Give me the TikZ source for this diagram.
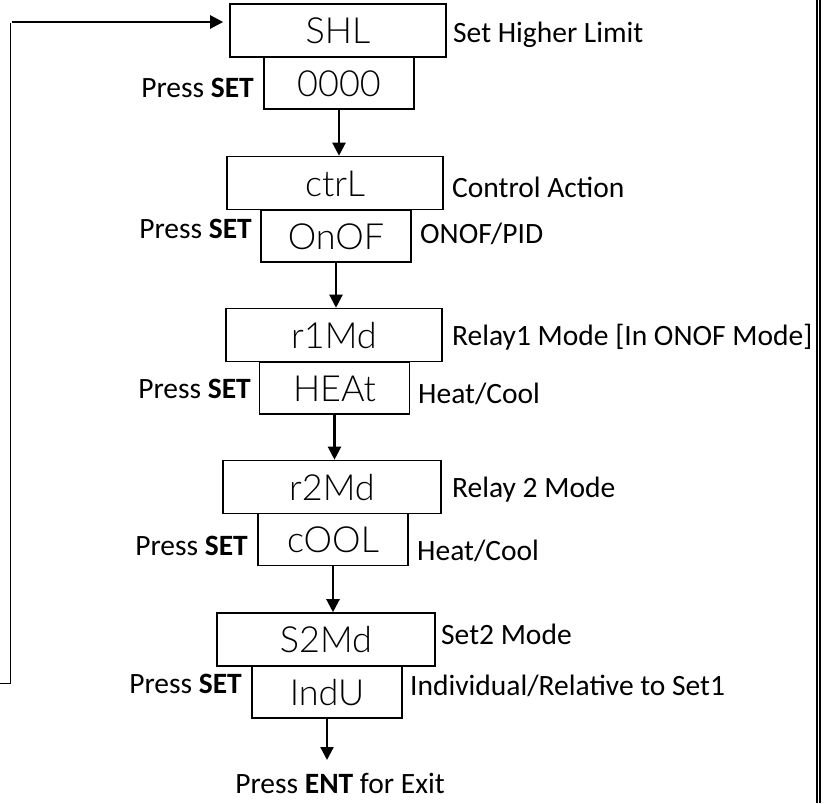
\documentclass[tikz,border=0pt]{standalone}
\usepackage{fontspec}
\setmainfont{Carlito}
\IfFontExistsTF{Lato Light}{\newfontfamily\segfont{Lato Light}}{\newfontfamily\segfont{DejaVu Sans Mono}}
\usetikzlibrary{arrows.meta}
\begin{document}
\begin{tikzpicture}[x=1pt,y=-1pt,
  disp/.style={draw, line width=1.6pt, inner sep=0pt, font=\segfont\fontsize{36}{36}\selectfont, text height=26pt, text depth=0pt},
  big/.style={disp, minimum width=216pt, minimum height=53pt},
  small/.style={disp, minimum width=150pt, minimum height=52pt},
  lbl/.style={inner sep=0pt, font=\fontsize{29.5}{33}\selectfont, anchor=base west},
  press/.style={inner sep=0pt, font=\fontsize{29.5}{33}\selectfont, anchor=base east},
  flow/.style={line width=2.2pt, -{Triangle[length=13pt,width=13pt]}},
  thinline/.style={line width=1pt}
]
\useasboundingbox (0,0) rectangle (827,803);

% display boxes
\node[big]   (d1) at (338,30.5)  {SHL};
\node[small] (v1) at (339,83)    {0000};
\node[big]   (d2) at (335,183)   {ctrL};
\node[small] (v2) at (336,236)   {OnOF};
\node[big]   (d3) at (334,335)   {r1Md};
\node[small] (v3) at (334.5,388) {HEAt};
\node[big, minimum width=218pt] (d4) at (332,487) {r2Md};
\node[small] (v4) at (333,539.5) {cOOL};
\node[big, minimum width=218pt] (d5) at (326,639.5) {S2Md};
\node[small] (v5) at (327,692)   {IndU};

% right-hand labels
\node[lbl] (l1) at (453,42)  {Set Higher Limit};
\node[lbl] (l2) at (452,197) {Control Action};
\node[lbl] (l3) at (452,345) {Relay1 Mode [In ONOF Mode]};
\node[lbl] (l4) at (452,497) {Relay 2 Mode};
\node[lbl] (l5) at (441,644) {Set2 Mode};
\node[lbl] (s2) at (420,243) {ONOF/PID};
\node[lbl] (s3) at (418,403) {Heat/Cool};
\node[lbl] (s4) at (417,560) {Heat/Cool};
\node[lbl] (s5) at (410,695) {Individual/Relative to Set1};

% press SET labels
\node[press] (p1) at (254,97)  {Press \textbf{SET}};
\node[press] (p2) at (252,238) {Press \textbf{SET}};
\node[press] (p3) at (251,398) {Press \textbf{SET}};
\node[press] (p4) at (248,555) {Press \textbf{SET}};
\node[press] (p5) at (242,693) {Press \textbf{SET}};

% flow arrows
\draw[flow] (v1.south) -- (v1.south |- d2.north);
\draw[flow] (v2.south) -- (v2.south |- d3.north);
\draw[flow] (v3.south) -- (v3.south |- d4.north);
\draw[flow] (v4.south) -- (v4.south |- d5.north);
\coordinate (end) at (327,760);
\draw[flow] (v5.south) -- (end);
\node[inner sep=0pt, font=\fontsize{29.5}{33}\selectfont, anchor=base] (exit) at (340,793) {Press \textbf{ENT} for Exit};

% feedback loop on the left
\coordinate (fb0) at (0,683);
\coordinate (fb1) at (10.5,683);
\coordinate (fb2) at (10.5,23);
\coordinate (fb3) at (12,22);
\draw[thinline] (fb0) -- (fb1) -- (fb2);
\draw[flow, line width=2.4pt] (fb3) -- ([xshift=-6pt]fb3 -| d1.west);

% double border on the right
\coordinate (r1t) at (817,0);
\coordinate (r1b) at (817,803);
\coordinate (r2t) at (820.3,0);
\coordinate (r2b) at (820.3,803);
\draw[line width=1.7pt] (r1t) -- (r1b);
\draw[line width=1.7pt] (r2t) -- (r2b);
\end{tikzpicture}
\end{document}
